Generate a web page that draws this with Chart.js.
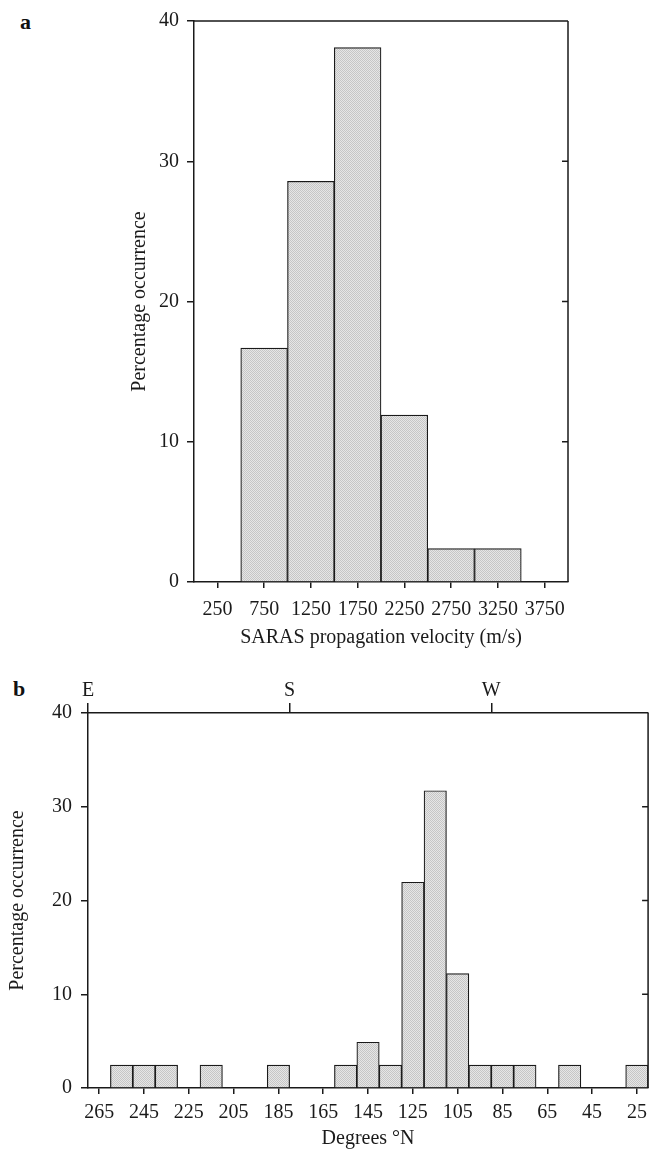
<!DOCTYPE html>
<html lang="en">
<head>
    <meta charset="UTF-8">
    <title>SARAS propagation histograms</title>
    <script src="https://cdn.jsdelivr.net/npm/chart.js"></script>
    <style>
        body { margin: 0; background: #fff; width: 654px; height: 1151px; position: relative; overflow: hidden; }
        canvas { position: absolute; left: 0; }
        #chartA { top: 0; }
        #chartB { top: 658px; }
        .panel { position: absolute; font: bold 22px 'Liberation Serif', serif; color: #111; }
    </style>
</head>
<body>
    <div class="panel" style="left:20px; top:9px;">a</div>
    <div class="panel" style="left:13px; top:676px;">b</div>
    <canvas id="chartA" width="654" height="650"></canvas>
    <canvas id="chartB" width="654" height="493"></canvas>
    <script>
        // panel a: velocity bins (bin centres, m/s) and % of events
        const velocityBins = ['250', '750', '1250', '1750', '2250', '2750', '3250', '3750'];
        const velocityPct = [0, 16.67, 28.57, 38.10, 11.90, 2.38, 2.38, 0];

        // panel b: direction bins (bin centres, degrees) and % of events
        const directionBins = ['265', '255', '245', '235', '225', '215', '205', '195', '185', '175', '165', '155', '145',
            '135', '125', '115', '105', '95', '85', '75', '65', '55', '45', '35', '25'];
        const directionPct = [0, 2.44, 2.44, 2.44, 0, 2.44, 0, 0, 2.44, 0, 0, 2.44, 4.88,
            2.44, 21.95, 31.71, 12.20, 2.44, 2.44, 2.44, 0, 2.44, 0, 0, 2.44];

        // compass marks on the top axis of panel b
        const compassDegrees = [270, 180, 90];
        const compassLabels = ['E', 'S', 'W'];

        const yTicks = [0, 10, 20, 30, 40];

        const ink = '#1a1a1a';
        Chart.defaults.font.family = "'Liberation Serif', 'DejaVu Serif', serif";
        Chart.defaults.font.size = 20;
        Chart.defaults.color = ink;

        // stippled grey fill like the printed figure
        const tile = document.createElement('canvas');
        tile.width = 2; tile.height = 2;
        const tctx = tile.getContext('2d');
        tctx.fillStyle = '#e6e6e6'; tctx.fillRect(0, 0, 2, 2);
        tctx.fillStyle = '#c6c6c6'; tctx.fillRect(0, 0, 1, 1); tctx.fillRect(1, 1, 1, 1);
        const stipple = tctx.createPattern(tile, 'repeat');

        // box around the plot + inward ticks on the right side
        const framePlugin = {
            id: 'frame',
            afterDraw(chart, args, opts) {
                const {ctx, chartArea: a} = chart;
                ctx.save();
                ctx.strokeStyle = ink;
                ctx.lineWidth = 1.5;
                ctx.beginPath();
                if (opts.top) { ctx.moveTo(a.left, a.top); ctx.lineTo(a.right, a.top); }
                ctx.moveTo(a.right, a.top);
                ctx.lineTo(a.right, a.bottom);
                const y = chart.scales.y;
                yTicks.slice(1, -1).forEach(v => {
                    const py = y.getPixelForValue(v);
                    ctx.moveTo(a.right, py);
                    ctx.lineTo(a.right - 6, py);
                });
                ctx.stroke();
                ctx.restore();
            }
        };

        function yScale(width, pad) {
            return {
                min: 0,
                max: 40,
                afterBuildTicks: s => { s.ticks = yTicks.map(v => ({value: v})); },
                afterFit: s => { s.width = width; },
                grid: {drawOnChartArea: false, tickLength: 7, color: ink, lineWidth: 1.5},
                border: {display: true, color: ink, width: 1.5},
                ticks: {padding: pad, color: ink},
                title: {display: true, text: 'Percentage occurrence', padding: 0, color: ink}
            };
        }

        function barSet(values) {
            return {
                data: values,
                backgroundColor: stipple,
                borderColor: ink,
                borderWidth: 1.2,
                borderSkipped: 'bottom',
                barPercentage: 1,
                categoryPercentage: 1
            };
        }

        new Chart(document.getElementById('chartA'), {
            type: 'bar',
            data: {labels: velocityBins, datasets: [barSet(velocityPct)]},
            options: {
                responsive: false,
                animation: false,
                layout: {padding: {left: 128, top: 21, right: 86, bottom: 0}},
                plugins: {legend: {display: false}, tooltip: {enabled: false}, frame: {top: true}},
                scales: {
                    x: {
                        afterFit: s => { s.height = 68; },
                        grid: {offset: false, drawOnChartArea: false, tickLength: 6, color: ink, lineWidth: 1.5},
                        border: {display: true, color: ink, width: 1.5},
                        ticks: {padding: 10, maxRotation: 0, autoSkip: false, color: ink},
                        title: {display: true, text: 'SARAS propagation velocity (m/s)', padding: 0, color: ink}
                    },
                    y: yScale(66, 8)
                }
            },
            plugins: [framePlugin]
        });

        new Chart(document.getElementById('chartB'), {
            type: 'bar',
            data: {labels: directionBins, datasets: [barSet(directionPct)]},
            options: {
                responsive: false,
                animation: false,
                layout: {padding: {left: 6, top: 0, right: 3, bottom: 0}},
                plugins: {legend: {display: false}, tooltip: {enabled: false}, frame: {top: false}},
                scales: {
                    x: {
                        afterFit: s => { s.height = 63; },
                        grid: {
                            offset: false, drawOnChartArea: false, tickLength: 6, lineWidth: 1.5,
                            tickColor: c => (c.index % 2 ? 'rgba(0,0,0,0)' : ink)
                        },
                        border: {display: true, color: ink, width: 1.5},
                        ticks: {
                            padding: 7, maxRotation: 0, autoSkip: false, color: ink,
                            callback: function (v, i) { return i % 2 ? '' : this.getLabelForValue(v); }
                        },
                        title: {display: true, text: 'Degrees °N', padding: 0, color: ink}
                    },
                    compass: {
                        type: 'linear',
                        position: 'top',
                        min: 20,
                        max: 270,
                        reverse: true,
                        offset: false,
                        afterBuildTicks: s => { s.ticks = compassDegrees.map(v => ({value: v})); },
                        afterFit: s => { s.height = 55; },
                        grid: {offset: false, drawOnChartArea: false, tickLength: 10, color: ink, lineWidth: 1.5},
                        border: {display: true, color: ink, width: 1.5},
                        ticks: {
                            padding: 0, maxRotation: 0, color: ink,
                            callback: v => compassLabels[compassDegrees.indexOf(v)]
                        }
                    },
                    y: yScale(82, 9)
                }
            },
            plugins: [framePlugin]
        });
    </script>
</body>
</html>
